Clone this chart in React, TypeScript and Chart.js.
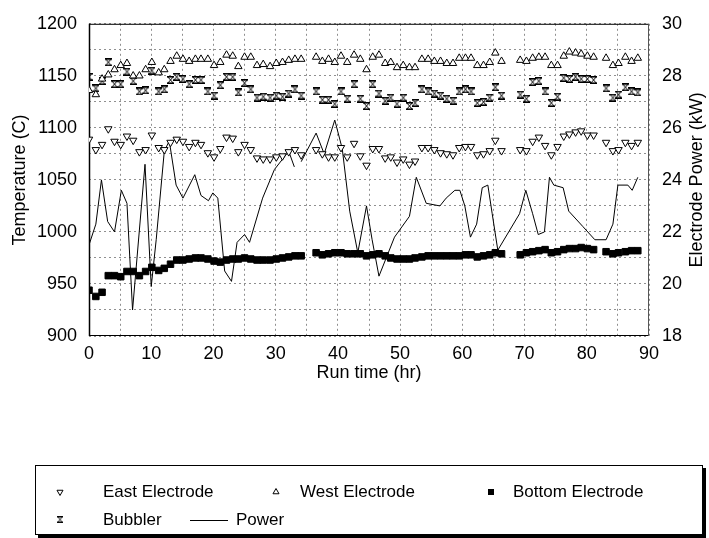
import { useEffect, useRef } from "react";
import { Chart, registerables } from "chart.js";

Chart.register(...registerables);

// Sampling times (hr) shared by the electrode and bubbler temperature series
const hours = [
  0.0, 1.1, 2.1, 3.1, 4.1, 5.1, 6.1, 7.1, 8.1, 9.1,
  10.1, 11.2, 12.1, 13.1, 14.1, 15.1, 16.1, 17.1, 18.0, 19.1,
  20.1, 21.1, 22.1, 23.1, 24.0, 25.0, 26.0, 27.0, 28.0, 29.1,
  30.1, 31.1, 32.1, 33.1, 34.1,
  36.5, 37.5, 38.5, 39.5, 40.5, 41.5, 42.6, 43.6, 44.6, 45.6,
  46.6, 47.6, 48.5, 49.5, 50.5, 51.5, 52.4, 53.5, 54.5, 55.5,
  56.5, 57.5, 58.5, 59.5, 60.5, 61.4, 62.4, 63.4, 64.4, 65.3, 66.3,
  69.3, 70.3, 71.3, 72.3, 73.3, 74.3, 75.3, 76.3, 77.2, 78.2,
  79.1, 80.1, 81.1, 83.1, 84.2, 85.1, 86.2, 87.2, 88.2,
];

// Temperatures (C)
const eastElectrode = [
  1089, 1079, 1084, 1099, 1087, 1084, 1092, 1088, 1077, 1079,
  1093, 1081, 1079, 1086, 1089, 1087, 1082, 1086, 1084, 1076,
  1072, 1080, 1091, 1090, 1077, 1084, 1079, 1071, 1070, 1070,
  1072, 1073, 1077, 1079, 1074,
  1079, 1075, 1072, 1072, 1081, 1072, 1085, 1073, 1064, 1080,
  1080, 1071, 1072, 1067, 1070, 1065, 1068, 1081, 1081, 1079,
  1076, 1075, 1074, 1081, 1082, 1082, 1074, 1075, 1078, 1088, 1078,
  1079, 1078, 1087, 1091, 1083, 1074, 1082, 1092, 1094, 1096,
  1097, 1093, 1093, 1086, 1078, 1079, 1086, 1083, 1086,
];

const westElectrode = [
  1136, 1132, 1147, 1151, 1156, 1160, 1162, 1150, 1150, 1156,
  1163, 1153, 1156, 1164, 1169, 1166, 1164, 1166, 1166, 1166,
  1160, 1163, 1170, 1169, 1159, 1168, 1168, 1160, 1161, 1159,
  1162, 1163, 1165, 1166, 1166,
  1168, 1164, 1166, 1163, 1169, 1163, 1170, 1166, 1156, 1168,
  1170, 1162, 1163, 1158, 1160, 1158, 1158, 1166, 1166, 1164,
  1164, 1162, 1162, 1167, 1167, 1167, 1160, 1160, 1163, 1172, 1164,
  1165, 1164, 1167, 1168, 1168, 1160, 1160, 1169, 1173, 1172,
  1171, 1169, 1168, 1167, 1160, 1162, 1168, 1164, 1167,
];

const bottomElectrode = [
  944, 938, 942, 958, 958, 957, 962, 962, 958, 962,
  966, 963, 965, 969, 973, 973, 974, 975, 975, 974,
  972, 971, 973, 974, 974, 975, 974, 973, 973, 973,
  974, 975, 976, 977, 977,
  980, 978, 979, 980, 980, 979, 979, 979, 977, 978,
  979, 977, 975, 974, 974, 974, 975, 976, 977, 977,
  977, 977, 977, 977, 978, 978, 976, 977, 978, 980, 979,
  978, 980, 981, 982, 983, 980, 981, 983, 984, 984,
  985, 984, 983, 981, 979, 980, 981, 982, 982,
];

const bubbler = [
  1149, 1138, 1145, 1163, 1142, 1142, 1154, 1145, 1135, 1136,
  1155, 1135, 1137, 1146, 1149, 1147, 1142, 1146, 1146, 1135,
  1131, 1141, 1149, 1149, 1134, 1143, 1137, 1129, 1130, 1129,
  1131, 1130, 1133, 1137, 1131,
  1135, 1127, 1127, 1123, 1135, 1128, 1142, 1128, 1121, 1142,
  1133, 1126, 1129, 1123, 1129, 1121, 1124, 1137, 1135, 1133,
  1131, 1128, 1126, 1135, 1137, 1135, 1124, 1125, 1129, 1139, 1131,
  1132, 1128, 1144, 1145, 1135, 1124, 1130, 1148, 1147, 1149,
  1147, 1147, 1146, 1138, 1129, 1132, 1139, 1135, 1134,
];

// Electrode power (kW) on its own time base; null marks a break in the record
const powerHours = [
  0.0, 1.1, 2.0, 3.0, 4.1, 5.2, 6.1, 7.0, 9.0, 10.0,
  10.8, 12.1, 12.9, 14.0, 15.1, 17.0, 18.0, 19.2, 19.9, 20.7,
  21.8, 22.9, 23.8, 25.0, 25.8, 27.9, 29.8, 32.1, 33.0, 33.5,
  34.1, 36.5, 37.8, 39.5, 40.7, 41.9, 43.2, 44.6, 45.5, 46.6,
  49.1, 51.5, 52.6, 54.2, 56.4, 57.4, 58.8, 59.6, 60.4, 61.3,
  62.3, 63.2, 64.1, 64.8, 65.7, 69.2, 70.2, 71.3, 72.2, 73.2,
  74.0, 74.7, 76.2, 77.1, 79.4, 81.3, 83.1, 84.2, 85.0, 86.6,
  87.3, 88.2,
];

const powerKW = [
  21.5, 22.3, 24.0, 22.4, 22.0, 23.6, 23.1, 19.0, 24.6, 19.9,
  21.7, 25.1, 25.5, 23.8, 23.3, 24.2, 23.4, 23.2, 23.5, 23.3,
  20.5, 20.1, 21.6, 21.9, 21.6, 23.3, 24.4, 25.1, 24.5, null,
  24.7, 25.8, 25.0, 26.3, 25.2, 22.8, 21.2, 23.0, 21.7, 20.3,
  21.8, 22.6, 24.1, 23.1, 23.0, 23.3, 23.6, 23.6, 23.0, 21.8,
  22.3, 23.7, 23.8, 22.7, 21.3, 22.7, 23.6, 22.7, 21.9, 22.0,
  24.1, 23.8, 23.7, 22.8, 22.2, 21.7, 21.7, 22.3, 23.8, 23.8,
  23.6, 24.1,
];

// Axis tick labels
const timeLabels = [0, 10, 20, 30, 40, 50, 60, 70, 80, 90];
const tempLabels = [900, 950, 1000, 1050, 1100, 1150, 1200];
const powerLabels = [18, 20, 22, 24, 26, 28, 30];

const FONT = "'Liberation Sans', Arial, Helvetica, sans-serif";
const GRID = "#8f8f8f";

const toPoints = (xs: number[], ys: (number | null)[]) =>
  xs.map((x, i) => ({ x, y: ys[i] }));

function makeHourglass(): HTMLCanvasElement {
  const c = document.createElement("canvas");
  c.width = 7;
  c.height = 8;
  const g = c.getContext("2d")!;
  g.strokeStyle = "#000";
  g.lineWidth = 1;
  g.beginPath();
  g.moveTo(0.5, 0.5);
  g.lineTo(6.5, 0.5);
  g.lineTo(0.5, 7.5);
  g.lineTo(6.5, 7.5);
  g.closePath();
  g.stroke();
  g.fillStyle = "#000";
  g.fillRect(0, 0, 7, 1.6);
  g.fillRect(0, 6.4, 7, 1.6);
  return c;
}

function drawTriangle(ctx: CanvasRenderingContext2D, x: number, y: number, r: number, down: boolean) {
  const s = down ? -1 : 1;
  ctx.beginPath();
  ctx.moveTo(x, y - s * r);
  ctx.lineTo(x + r * 0.866, y + s * r * 0.5);
  ctx.lineTo(x - r * 0.866, y + s * r * 0.5);
  ctx.closePath();
  ctx.fillStyle = "#fff";
  ctx.fill();
  ctx.strokeStyle = "#000";
  ctx.lineWidth = 1;
  ctx.stroke();
}

function makeDecorPlugin(hourglass: HTMLCanvasElement) {
  return {
    id: "decor",
    beforeDatasetsDraw(chart: any) {
      const { ctx, chartArea: a } = chart;
      ctx.save();
      ctx.strokeStyle = "#000";
      ctx.lineWidth = 1;
      ctx.beginPath();
      ctx.moveTo(a.left, a.top + 0.5);
      ctx.lineTo(a.right, a.top + 0.5);
      ctx.moveTo(a.left, a.bottom - 0.5);
      ctx.lineTo(a.right, a.bottom - 0.5);
      ctx.stroke();
      ctx.lineWidth = 1.5;
      ctx.beginPath();
      ctx.moveTo(a.left + 0.5, a.top);
      ctx.lineTo(a.left + 0.5, a.bottom);
      ctx.stroke();
      ctx.strokeStyle = "#555";
      ctx.lineWidth = 1;
      ctx.beginPath();
      ctx.moveTo(a.right - 0.5, a.top);
      ctx.lineTo(a.right - 0.5, a.bottom);
      ctx.stroke();
      ctx.restore();
    },
    afterDraw(chart: any) {
      const { ctx, chartArea: a } = chart;
      const midY = (a.top + a.bottom) / 2;
      ctx.save();
      ctx.fillStyle = "#000";
      ctx.font = `18px ${FONT}`;
      ctx.textAlign = "center";
      ctx.textBaseline = "middle";

      // axis titles
      ctx.fillText("Run time (hr)", (a.left + a.right) / 2, 373);
      ctx.save();
      ctx.translate(20, midY);
      ctx.rotate(-Math.PI / 2);
      ctx.fillText("Temperature (C)", 0, 0);
      ctx.restore();
      ctx.save();
      ctx.translate(697, midY);
      ctx.rotate(-Math.PI / 2);
      ctx.fillText("Electrode Power (kW)", 0, 0);
      ctx.restore();

      // legend box with drop shadow
      const bx = 35, by = 465, bw = 668, bh = 70;
      ctx.fillStyle = "#000";
      ctx.fillRect(bx + 3, by + 3, bw, bh);
      ctx.fillStyle = "#fff";
      ctx.fillRect(bx, by, bw, bh);
      ctx.strokeStyle = "#000";
      ctx.lineWidth = 1;
      ctx.strokeRect(bx + 0.5, by + 0.5, bw - 1, bh - 1);

      const ds = chart.data.datasets;
      const row1 = by + 27;
      const row2 = by + 55;
      ctx.textAlign = "left";
      ctx.fillStyle = "#000";
      ctx.font = `17px ${FONT}`;

      drawTriangle(ctx, 60, row1, 3.5, true);
      ctx.fillStyle = "#000";
      ctx.fillText(ds[0].label, 103, row1);

      drawTriangle(ctx, 276, row1, 3.5, false);
      ctx.fillStyle = "#000";
      ctx.fillText(ds[1].label, 300, row1);

      ctx.fillRect(488, row1 - 3, 6, 6);
      ctx.fillText(ds[2].label, 513, row1);

      ctx.drawImage(hourglass, 57, row2 - 4, 6, 7);
      ctx.fillText(ds[3].label, 103, row2);

      ctx.strokeStyle = "#000";
      ctx.lineWidth = 1;
      ctx.beginPath();
      ctx.moveTo(190, row2 + 0.5);
      ctx.lineTo(228, row2 + 0.5);
      ctx.stroke();
      ctx.fillText(ds[4].label, 236, row2);
      ctx.restore();
    },
  };
}

export default function App() {
  const ref = useRef<HTMLCanvasElement>(null);

  useEffect(() => {
    document.body.style.margin = "0";
    const hourglass = makeHourglass();
    const tickFont = { family: FONT, size: 18 };

    const chart = new Chart(ref.current!, {
      type: "scatter",
      data: {
        datasets: [
          {
            label: "East Electrode",
            data: toPoints(hours, eastElectrode),
            pointStyle: "triangle",
            rotation: 180,
            radius: 4.3,
            borderColor: "#000",
            backgroundColor: "#fff",
            borderWidth: 1,
            yAxisID: "y",
          },
          {
            label: "West Electrode",
            data: toPoints(hours, westElectrode),
            pointStyle: "triangle",
            radius: 4.3,
            borderColor: "#000",
            backgroundColor: "#fff",
            borderWidth: 1,
            yAxisID: "y",
          },
          {
            label: "Bottom Electrode",
            data: toPoints(hours, bottomElectrode),
            pointStyle: "rect",
            radius: 4.6,
            borderColor: "#000",
            backgroundColor: "#000",
            borderWidth: 1,
            yAxisID: "y",
          },
          {
            label: "Bubbler",
            data: toPoints(hours, bubbler),
            pointStyle: hourglass,
            radius: 4,
            borderColor: "#000",
            backgroundColor: "#000",
            yAxisID: "y",
          },
          {
            label: "Power",
            data: toPoints(powerHours, powerKW),
            showLine: true,
            spanGaps: false,
            pointRadius: 0,
            borderColor: "#000",
            borderWidth: 1,
            tension: 0,
            yAxisID: "y1",
          },
        ],
      } as any,
      options: {
        responsive: false,
        animation: false,
        devicePixelRatio: 1,
        layout: { padding: { top: 15, left: 0, right: 0, bottom: 140 } },
        plugins: {
          legend: { display: false },
          tooltip: { enabled: false },
        },
        scales: {
          x: {
            type: "linear",
            min: timeLabels[0],
            max: timeLabels[timeLabels.length - 1],
            ticks: {
              stepSize: 5,
              autoSkip: false,
              maxRotation: 0,
              padding: 7,
              color: "#000",
              font: tickFont,
              callback: (v: any) => (timeLabels.includes(Number(v)) ? String(v) : ""),
            },
            grid: { display: true, color: GRID, lineWidth: 1, drawTicks: false },
            border: { display: false, dash: [2, 3] },
            afterFit: (s: any) => {
              s.height = 62;
            },
          },
          y: {
            position: "left",
            min: tempLabels[0],
            max: tempLabels[tempLabels.length - 1],
            ticks: {
              stepSize: 50,
              padding: 12,
              color: "#000",
              font: tickFont,
              callback: (v: any) => (tempLabels.includes(Number(v)) ? String(v) : ""),
            },
            grid: { display: false, drawTicks: false },
            border: { display: false },
            afterFit: (s: any) => {
              s.width = 89;
            },
          },
          y1: {
            position: "right",
            min: powerLabels[0],
            max: powerLabels[powerLabels.length - 1],
            ticks: {
              stepSize: 1,
              padding: 13,
              color: "#000",
              font: tickFont,
              autoSkip: false,
              callback: (v: any) => (powerLabels.includes(Number(v)) ? String(v) : ""),
            },
            grid: { display: true, color: GRID, lineWidth: 1, drawTicks: false },
            border: { display: false, dash: [2, 3] },
            afterFit: (s: any) => {
              s.width = 60;
            },
          },
        },
      } as any,
      plugins: [makeDecorPlugin(hourglass)],
    });

    return () => chart.destroy();
  }, []);

  return (
    <div style={{ width: 709, height: 538, background: "#fff" }}>
      <canvas ref={ref} width={709} height={538} style={{ display: "block", width: 709, height: 538 }} />
    </div>
  );
}
